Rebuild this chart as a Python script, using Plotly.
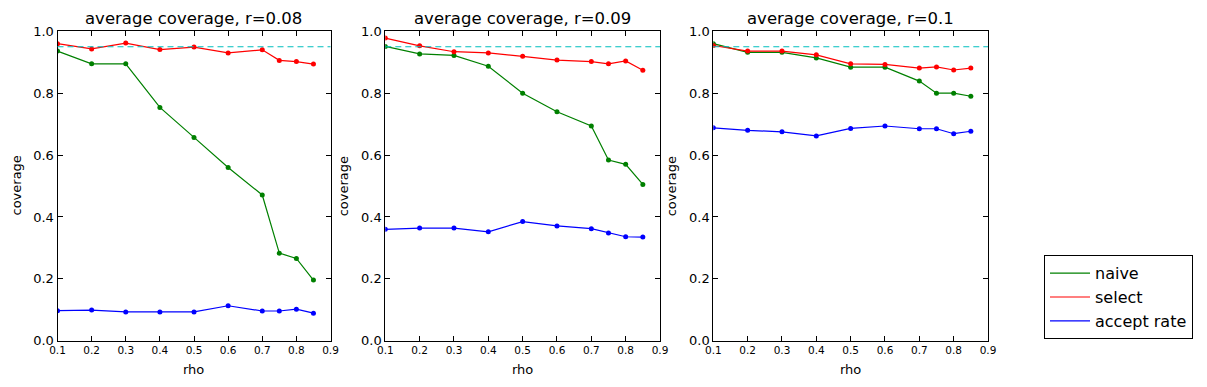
import plotly.graph_objects as go

rho = [0.1, 0.2, 0.3, 0.4, 0.5, 0.6, 0.7, 0.75, 0.8, 0.85]
r_values = ["0.08", "0.09", "0.1"]
target = 0.95

naive_08 = [0.936, 0.895, 0.895, 0.754, 0.657, 0.560, 0.471, 0.283, 0.266, 0.196]
select_08 = [0.960, 0.943, 0.962, 0.941, 0.949, 0.930, 0.940, 0.906, 0.902, 0.894]
accept_08 = [0.097, 0.099, 0.093, 0.093, 0.093, 0.113, 0.096, 0.096, 0.102, 0.089]

naive_09 = [0.951, 0.927, 0.922, 0.887, 0.800, 0.740, 0.694, 0.584, 0.570, 0.505]
select_09 = [0.978, 0.953, 0.934, 0.930, 0.919, 0.907, 0.902, 0.895, 0.904, 0.874]
accept_09 = [0.360, 0.364, 0.364, 0.352, 0.385, 0.371, 0.362, 0.348, 0.336, 0.335]

naive_10 = [0.960, 0.932, 0.932, 0.914, 0.884, 0.884, 0.839, 0.800, 0.800, 0.790]
select_10 = [0.954, 0.936, 0.936, 0.924, 0.895, 0.893, 0.881, 0.885, 0.875, 0.881]
accept_10 = [0.688, 0.680, 0.675, 0.662, 0.686, 0.694, 0.685, 0.685, 0.669, 0.677]

panels = [
    (naive_08, select_08, accept_08),
    (naive_09, select_09, accept_09),
    (naive_10, select_10, accept_10),
]
names = ["naive", "select", "accept rate"]
colors = ["#008000", "#ff0000", "#0000ff"]

# the page body adds an 8px margin, so the figure is drawn 8px smaller
OFF = 8
W, H = 1207 - OFF, 387 - OFF
x_dom = [(57.5, 330.5), (385.3, 660.0), (713.3, 988.0)]
y_top, y_bot = 31.3, 340.7
font = "DejaVu Sans"


def px(v):
    return (v - OFF) / W


def py(v):
    return 1 - (v - OFF) / H


fig = go.Figure()
layout = dict(
    width=W, height=H,
    margin=dict(l=0, r=0, t=0, b=0),
    paper_bgcolor="white", plot_bgcolor="white",
    font=dict(family=font, color="black"),
    showlegend=True,
)
annotations = []
shapes = []

for i, (series, r) in enumerate(zip(panels, r_values)):
    n = i + 1
    xa = "x" if n == 1 else f"x{n}"
    ya = "y" if n == 1 else f"y{n}"
    for vals, name, col in zip(series, names, colors):
        fig.add_trace(go.Scatter(
            x=rho, y=vals, mode="lines+markers", name=name,
            line=dict(color=col, width=1.2),
            marker=dict(color=col, size=5),
            xaxis=xa, yaxis=ya, showlegend=False,
        ))
    d0, d1 = px(x_dom[i][0]), px(x_dom[i][1])
    common = dict(
        showline=True, linecolor="black", linewidth=1, mirror="allticks",
        ticks="inside", ticklen=5, tickcolor="black", showgrid=False,
        zeroline=False, automargin=False,
    )
    layout["xaxis" if n == 1 else f"xaxis{n}"] = dict(
        domain=[d0, d1], range=[0.1, 0.9], dtick=0.1, tick0=0.1,
        tickformat=".1f", tickfont=dict(size=10.5), anchor=ya, **common,
    )
    layout["yaxis" if n == 1 else f"yaxis{n}"] = dict(
        domain=[py(y_bot), py(y_top)], range=[0, 1], dtick=0.2,
        tickformat=".1f", tickfont=dict(size=13), anchor=xa, **common,
    )
    shapes.append(dict(
        type="line", xref=f"{xa} domain", yref=ya, x0=0, x1=1,
        y0=target, y1=target, line=dict(color="#00bfbf", width=1.2, dash="6px,4px"),
    ))
    cx = (d0 + d1) / 2
    annotations.append(dict(
        text=f"average coverage, r={r}", xref="paper", yref="paper",
        x=cx, y=py(18), showarrow=False, font=dict(size=16.5),
        xanchor="center", yanchor="middle",
    ))
    annotations.append(dict(
        text="rho", xref="paper", yref="paper", x=cx, y=py(369),
        showarrow=False, font=dict(size=13), xanchor="center", yanchor="middle",
    ))
    annotations.append(dict(
        text="coverage", xref="paper", yref="paper",
        x=px(x_dom[i][0] - 41), y=py(186), textangle=-90,
        showarrow=False, font=dict(size=13), xanchor="center", yanchor="middle",
    ))

for name, col in zip(names, colors):
    fig.add_trace(go.Scatter(
        x=[None], y=[None], mode="lines", name=name,
        line=dict(color=col, width=1.2),
    ))

layout["legend"] = dict(
    x=px(1044), y=py(255.3), xanchor="left", yanchor="top",
    bordercolor="black", borderwidth=1, bgcolor="white",
    font=dict(size=16, family=font), itemwidth=40, tracegroupgap=0,
)
layout["annotations"] = annotations
layout["shapes"] = shapes
fig.update_layout(**layout)

fig.write_html("out.html")
